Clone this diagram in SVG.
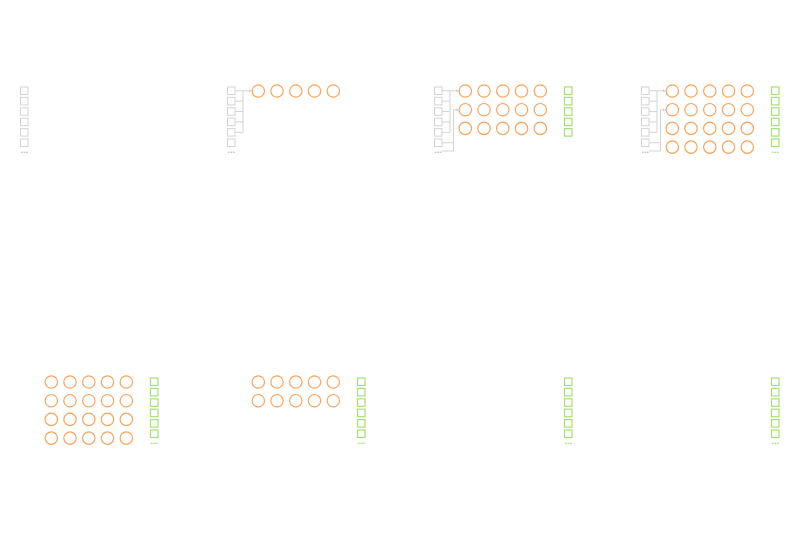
<svg xmlns="http://www.w3.org/2000/svg" width="800" height="548" viewBox="0 0 800 548">
<style>
.in{fill:#fff;stroke:#d4d4d4;stroke-width:1}
.out{fill:#fff;stroke:#a3e07a;stroke-width:1.2}
.n{fill:#fff;stroke:#f9a45c;stroke-width:1.2}
.dg{font-family:"Liberation Sans",Arial,sans-serif;font-size:9px;font-weight:bold;fill:#bbbbbb}
.dgr{font-family:"Liberation Sans",Arial,sans-serif;font-size:9px;font-weight:bold;fill:#99dd66}
.c{fill:none;stroke:#d4d4d4;stroke-width:1}
</style>
<defs>
<marker id="ah" markerWidth="4" markerHeight="4" refX="3" refY="2" orient="auto" markerUnits="userSpaceOnUse">
<path d="M0,0.5 L3,2 L0,3.5 Z" fill="#cccccc"/>
</marker>
<g id="inputs">
<rect class="in" x="20.5" y="87" width="7.5" height="7.5"/>
<rect class="in" x="20.5" y="97.4" width="7.5" height="7.5"/>
<rect class="in" x="20.5" y="107.8" width="7.5" height="7.5"/>
<rect class="in" x="20.5" y="118.2" width="7.5" height="7.5"/>
<rect class="in" x="20.5" y="128.6" width="7.5" height="7.5"/>
<rect class="in" x="20.5" y="139" width="7.5" height="7.5"/>
<text class="dg" x="20.5" y="153">...</text>
</g>
<g id="outputs6">
<rect class="out" x="150.5" y="87" width="7.5" height="7.5"/>
<rect class="out" x="150.5" y="97.4" width="7.5" height="7.5"/>
<rect class="out" x="150.5" y="107.8" width="7.5" height="7.5"/>
<rect class="out" x="150.5" y="118.2" width="7.5" height="7.5"/>
<rect class="out" x="150.5" y="128.6" width="7.5" height="7.5"/>
<rect class="out" x="150.5" y="139" width="7.5" height="7.5"/>
<text class="dgr" x="150.5" y="153">...</text>
</g>
<g id="outputs5">
<rect class="out" x="150.5" y="87" width="7.5" height="7.5"/>
<rect class="out" x="150.5" y="97.4" width="7.5" height="7.5"/>
<rect class="out" x="150.5" y="107.8" width="7.5" height="7.5"/>
<rect class="out" x="150.5" y="118.2" width="7.5" height="7.5"/>
<rect class="out" x="150.5" y="128.6" width="7.5" height="7.5"/>
</g>
<g id="row">
<circle class="n" cx="51.3" cy="0" r="6.2"/>
<circle class="n" cx="70" cy="0" r="6.2"/>
<circle class="n" cx="88.8" cy="0" r="6.2"/>
<circle class="n" cx="107.5" cy="0" r="6.2"/>
<circle class="n" cx="126.3" cy="0" r="6.2"/>
</g>
</defs>

<g id="panel1">
<use id="p1-inputs" href="#inputs"/>
</g>

<g id="panel2" transform="translate(207,0)">
<use id="p2-inputs" href="#inputs"/>
<use id="p2-row1" href="#row" y="91"/>
</g>

<g id="panel3" transform="translate(414,0)">
<use id="p3-inputs" href="#inputs"/>
<use id="p3-row1" href="#row" y="91"/>
<use id="p3-row2" href="#row" y="109.7"/>
<use id="p3-row3" href="#row" y="128.4"/>
<use id="p3-outputs" href="#outputs5"/>
</g>

<g id="panel4" transform="translate(621,0)">
<use id="p4-inputs" href="#inputs"/>
<use id="p4-row1" href="#row" y="91"/>
<use id="p4-row2" href="#row" y="109.7"/>
<use id="p4-row3" href="#row" y="128.4"/>
<use id="p4-row4" href="#row" y="147.1"/>
<use id="p4-outputs" href="#outputs6"/>
</g>

<g id="panel5" transform="translate(0,291)">
<use id="p5-row1" href="#row" y="91"/>
<use id="p5-row2" href="#row" y="109.7"/>
<use id="p5-row3" href="#row" y="128.4"/>
<use id="p5-row4" href="#row" y="147.1"/>
<use id="p5-outputs" href="#outputs6"/>
</g>

<g id="panel6" transform="translate(207,291)">
<use id="p6-row1" href="#row" y="91"/>
<use id="p6-row2" href="#row" y="109.7"/>
<use id="p6-outputs" href="#outputs6"/>
</g>

<g id="panel7" transform="translate(414,291)">
<use id="p7-outputs" href="#outputs6"/>
</g>

<g id="panel8" transform="translate(621,291)">
<use id="p8-outputs" href="#outputs6"/>
</g>

<g id="connectors">
<g transform="translate(207,0)">
<path class="c" d="M28,90.75H36M28,101.15H36M28,111.55H36M28,121.95H36M28,132.35H36M36,90.75V132.35"/>
<path class="c" d="M36,90.75H44.6" marker-end="url(#ah)"/>
</g>
<g transform="translate(414,0)">
<path class="c" d="M28,90.75H36M28,101.15H36M28,111.55H36M28,121.95H36M28,132.35H36M36,90.75V132.35"/>
<path class="c" d="M36,90.75H44.6" marker-end="url(#ah)"/>
<path class="c" d="M28,142.75H39.5M28,151H39.5M39.5,109.7V151"/>
<path class="c" d="M39.5,109.7H44.6" marker-end="url(#ah)"/>
</g>
<g transform="translate(621,0)">
<path class="c" d="M28,90.75H36M28,101.15H36M28,111.55H36M28,121.95H36M28,132.35H36M36,90.75V132.35"/>
<path class="c" d="M36,90.75H44.6" marker-end="url(#ah)"/>
<path class="c" d="M28,142.75H39.5M28,151H39.5M39.5,109.7V151"/>
<path class="c" d="M39.5,109.7H44.6" marker-end="url(#ah)"/>
</g>
</g>
</svg>
